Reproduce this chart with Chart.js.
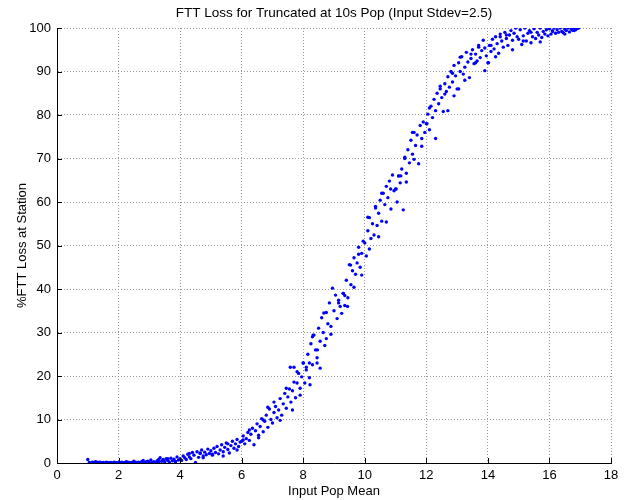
<!DOCTYPE html>
<html>
<head>
<meta charset="utf-8">
<script src="https://cdn.jsdelivr.net/npm/chart.js@4/dist/chart.umd.min.js"></script>
<style>
html,body{margin:0;padding:0;background:#fff;}
#wrap{width:628px;height:500px;}
</style>
</head>
<body>
<div id="wrap"><canvas id="c" width="628" height="500"></canvas></div>
<script>
const chartTitle = "FTT Loss for Truncated at 10s Pop (Input Stdev=2.5)";
const xTitle = "Input Pop Mean";
const yTitle = "%FTT Loss at Station";
const xTicks = [0, 2, 4, 6, 8, 10, 12, 14, 16, 18];
const yTicks = [0, 10, 20, 30, 40, 50, 60, 70, 80, 90, 100];

const popMean = [
1,1.05,1.1,1.15,1.2,1.25,1.3,1.35,1.4,1.45,1.5,1.55,1.6,1.65,1.7,1.75,1.8,1.85,1.9,1.95,
2,2.05,2.1,2.15,2.2,2.25,2.3,2.35,2.4,2.45,2.5,2.55,2.6,2.65,2.7,2.75,2.8,2.85,2.9,2.95,
3,3.05,3.1,3.15,3.2,3.25,3.3,3.35,3.4,3.45,3.5,3.55,3.6,3.65,3.7,3.75,3.8,3.85,3.9,3.95,
4,4.05,4.1,4.15,4.2,4.25,4.3,4.35,4.4,4.45,4.5,4.55,4.6,4.65,4.7,4.75,4.8,4.85,4.9,4.95,
5,5.05,5.1,5.15,5.2,5.25,5.3,5.35,5.4,5.45,5.5,5.55,5.6,5.65,5.7,5.75,5.8,5.85,5.9,5.95,
6,6.05,6.1,6.15,6.2,6.25,6.3,6.35,6.4,6.45,6.5,6.55,6.6,6.65,6.7,6.75,6.8,6.85,6.9,6.95,
7,7.05,7.1,7.15,7.2,7.25,7.3,7.35,7.4,7.45,7.5,7.55,7.6,7.65,7.7,7.75,7.8,7.85,7.9,7.95,
8,8.05,8.1,8.15,8.2,8.25,8.3,8.35,8.4,8.45,8.5,8.55,8.6,8.65,8.7,8.75,8.8,8.85,8.9,8.95,
9,9.05,9.1,9.15,9.2,9.25,9.3,9.35,9.4,9.45,9.5,9.55,9.6,9.65,9.7,9.75,9.8,9.85,9.9,9.95,
10,10.05,10.1,10.15,10.2,10.25,10.3,10.35,10.4,10.45,10.5,10.55,10.6,10.65,10.7,10.75,10.8,10.85,10.9,10.95,
11,11.05,11.1,11.15,11.2,11.25,11.3,11.35,11.4,11.45,11.5,11.55,11.6,11.65,11.7,11.75,11.8,11.85,11.9,11.95,
12,12.05,12.1,12.15,12.2,12.25,12.3,12.35,12.4,12.45,12.5,12.55,12.6,12.65,12.7,12.75,12.8,12.85,12.9,12.95,
13,13.05,13.1,13.15,13.2,13.25,13.3,13.35,13.4,13.45,13.5,13.55,13.6,13.65,13.7,13.75,13.8,13.85,13.9,13.95,
14,14.05,14.1,14.15,14.2,14.25,14.3,14.35,14.4,14.45,14.5,14.55,14.6,14.65,14.7,14.75,14.8,14.85,14.9,14.95,
15,15.05,15.1,15.15,15.2,15.25,15.3,15.35,15.4,15.45,15.5,15.55,15.6,15.65,15.7,15.75,15.8,15.85,15.9,15.95,
16,16.05,16.1,16.15,16.2,16.25,16.3,16.35,16.4,16.45,16.5,16.55,16.6,16.65,16.7,16.75,16.8,16.85,16.9,16.95,
7.58,7.8,8.0,8.2,8.1,7.7,8.22,8.45,8.3,8.46,9.3,9.35,9.54,10.1,10.35,10.84,11.1,8.32,8.67,9.15,
9.44,11.02,11.17,11.3,11.55,12.02,12.1,12.45,12.85,13.1,13.45,13.6,14.02,14.1,14.4,12.7,13.05,4.65,5.4,6.05,
6.7,3.3,3.6,3.85,4.3,4.75,5.05,5.55,5.85,6.25,6.55,6.85,7.05,7.25,7.45,7.65,7.9,8.55,8.75,8.9,
9.65,9.8,9.9,10.15,10.45,10.55,10.7,11.35,11.6,11.85,12.3,12.6,12.9,13.25,13.7,13.9,14.25,14.6,14.8,15.15,
15.4,15.7,16.1,16.5,16.8,2.3,2.6,1.3,1.7,2.9
];

const fttLoss = [
0.8,0.1,0.0,0.2,0.1,0.3,0.0,0.1,0.2,0.0,0.1,0.0,0.2,0.1,0.0,0.1,0.0,0.2,0.1,0.0,
0.1,0.0,0.2,0.0,0.1,0.3,0.0,0.1,0.0,0.2,0.4,0.1,0.0,0.2,0.1,0.3,0.6,0.1,0.0,0.4,
0.2,0.7,0.1,0.3,0.0,0.5,0.2,1.2,0.4,0.8,0.3,1.0,0.6,0.2,1.1,0.5,0.9,0.3,1.4,0.7,
1.0,0.6,1.6,1.2,0.8,2.0,1.4,1.0,2.4,1.8,0.1,2.6,1.3,2.2,3.0,1.6,2.5,1.9,3.2,2.2,
2.8,1.8,3.4,2.4,3.8,2.1,3.0,4.2,2.6,3.6,4.6,3.1,2.3,4.0,5.0,3.4,4.4,5.4,3.8,4.8,
5.0,6.2,4.4,5.6,7.0,5.2,6.6,8.0,4.2,7.4,9.0,6.4,8.4,10.2,7.2,9.6,11.0,8.2,12.4,10.0,
9.2,11.6,13.0,10.4,12.2,14.8,11.0,13.6,16.0,12.6,15.2,17.0,14.0,16.6,22.0,15.0,18.4,20.6,17.2,19.8,
23,18.4,21.4,25,19.6,27.4,22.6,29.4,26,24.2,31,28,33.4,30,27,34.6,32,36.8,29.6,40.2,
35,38.6,33.2,37.4,36,34.4,39,36.2,42,38,45.6,41,44.2,47.2,43.4,46,49.6,45,48.2,51,
50.6,47.6,53.4,56.4,51.6,55,52.4,58.6,54.6,57.4,60.4,55.6,62,59.4,63.6,61,64.8,58.4,66.2,62.6,
63,60,66,64.4,67.6,58.2,70,66.6,72,69,74.2,71,76,73,75.4,68.8,77.6,74.6,78.4,76,
78,80.2,76.6,82,79.4,83.6,81,85,82.6,86.6,84,80.8,87.2,85.4,88.8,86.4,90,87.6,91.4,89,
86,92,90,93.4,89.4,91,94.4,92.2,88.6,93,95,91.8,94,92.4,96,93.2,94.8,97.2,95.4,93.6,
92,96,94.6,97.4,95.2,98,96.4,94.2,98.6,97,95.6,99,97.6,96,98.4,99.4,97.2,98.8,100,98,
97.4,99.6,96.2,98.2,100,97,98.8,99.4,96.6,98,99.8,97.6,99,98.4,100,97.8,99.2,98.6,99.6,98.2,
99.8,98.6,99.4,100,98.8,99.6,99,100,99.2,98.9,99.7,99.4,100,99.1,99.8,99.5,100,99.6,99.9,100,
22,21,23,23,22,18.6,18,23,29,26,39,38.5,45.5,56.5,59,63,66,29.4,34.5,36.8,
36,63,66,70.3,76,78,81.6,86,89.6,93.3,94,92,92,96,98,81,86,2.3,1.6,5.3,
9.9,0.8,1.0,0.4,2.2,1.2,2.0,4.4,3.0,7.6,5.8,12.8,14.0,9.8,17.2,12.2,15.6,21.8,28.6,31.4,
40.4,48.0,43.2,49.2,52.0,62.0,55.4,64.6,69.8,72.8,74.6,84.8,84.4,88.0,95.6,90.2,93.4,98.4,95.0,97.0,
99.0,96.8,99.2,98.6,99.4,0.2,0.1,0.2,0.0,0.3
];

const points = popMean.map((x, i) => ({x: x, y: fttLoss[i]}));
const FONT = "'Liberation Sans', Arial, Helvetica, sans-serif";

const inwardTicks = {
  id: 'inwardTicks',
  afterDraw(chart) {
    const ctx = chart.ctx;
    const xs = chart.scales.x, ys = chart.scales.y;
    const area = chart.chartArea;
    ctx.save();
    ctx.strokeStyle = '#000';
    ctx.lineWidth = 1;
    ctx.setLineDash([]);
    ctx.beginPath();
    xTicks.forEach(v => {
      const px = Math.round(xs.getPixelForValue(v)) + 0.5;
      ctx.moveTo(px, area.bottom);
      ctx.lineTo(px, area.bottom - 5);
    });
    yTicks.forEach(v => {
      const py = Math.round(ys.getPixelForValue(v)) + 0.5;
      ctx.moveTo(area.left, py);
      ctx.lineTo(area.left + 5, py);
    });
    ctx.stroke();
    ctx.restore();
  }
};

new Chart(document.getElementById('c'), {
  type: 'scatter',
  data: {
    datasets: [{
      data: points,
      backgroundColor: 'rgb(0,0,255)',
      borderColor: 'rgb(0,0,255)',
      borderWidth: 0,
      pointRadius: 1.7,
      pointHoverRadius: 1.7
    }]
  },
  options: {
    responsive: false,
    animation: false,
    layout: {padding: {left: 0, right: 17, top: 0, bottom: 0}},
    plugins: {
      legend: {display: false},
      tooltip: {enabled: false},
      title: {
        display: true,
        fullSize: false,
        text: chartTitle,
        color: '#000',
        font: {family: FONT, size: 13.5, weight: 'normal'},
        padding: {top: 5, bottom: 6.8}
      }
    },
    scales: {
      x: {
        type: 'linear',
        min: 0, max: 18,
        afterBuildTicks(scale) { scale.ticks = xTicks.map(v => ({value: v})); },
        afterFit(scale) { scale.height = 37; },
        ticks: {color: '#000', font: {family: FONT, size: 13}, padding: 5, maxRotation: 0, autoSkip: false},
        grid: {color: 'rgb(150,150,150)', lineWidth: 1, drawTicks: false},
        border: {display: true, color: '#000', width: 1, dash: [1, 2]},
        title: {display: true, text: xTitle, color: '#000', font: {family: FONT, size: 13}, padding: {top: 0, bottom: 1}}
      },
      y: {
        type: 'linear',
        min: 0, max: 100,
        afterBuildTicks(scale) { scale.ticks = yTicks.map(v => ({value: v})); },
        afterFit(scale) { scale.width = 57; },
        ticks: {color: '#000', font: {family: FONT, size: 13}, padding: 6, autoSkip: false},
        grid: {color: 'rgb(150,150,150)', lineWidth: 1, drawTicks: false},
        border: {display: true, color: '#000', width: 1, dash: [1, 2]},
        title: {display: true, text: yTitle, color: '#000', font: {family: FONT, size: 13}, padding: {top: 15, bottom: 0}}
      }
    }
  },
  plugins: [inwardTicks]
});
</script>
</body>
</html>
